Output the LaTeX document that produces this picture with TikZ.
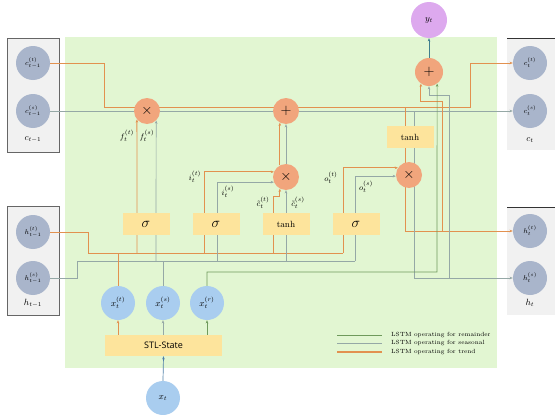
\documentclass[tikz,border=0pt]{standalone}
\usepackage{fontspec}
\newfontfamily\stlfont{Open Sans}
\usetikzlibrary{arrows.meta}
\definecolor{bgG}{HTML}{E2F6D2}
\definecolor{trend}{HTML}{E2914F}
\definecolor{seas}{HTML}{95A8A6}
\definecolor{rem}{HTML}{6F9A5C}
\definecolor{greyC}{HTML}{A9B5CB}
\definecolor{blueC}{HTML}{A9CDEF}
\definecolor{opC}{HTML}{F1A57C}
\definecolor{purC}{HTML}{DDA9EE}
\definecolor{gateC}{HTML}{FDE49C}
\definecolor{boxC}{HTML}{F1F1F1}
\definecolor{blueL}{HTML}{4F7FA8}
\definecolor{tealL}{HTML}{3F7E8E}
\pgfdeclarelayer{bg}\pgfdeclarelayer{ln}\pgfsetlayers{bg,ln,main}
\begin{document}
\begin{tikzpicture}[x=1pt,y=-1pt,
  gc/.style={circle,fill=greyC,minimum size=34pt,inner sep=0pt,font=\scriptsize},
  bc/.style={circle,fill=blueC,minimum size=34pt,inner sep=0pt,font=\small},
  op/.style={circle,fill=opC,minimum size=26pt,inner sep=0pt,font=\Large},
  gate/.style={fill=gateC,minimum width=47pt,minimum height=22pt,inner sep=0pt},
  tl/.style={trend,line width=0.8pt},
  sl/.style={seas,line width=0.7pt},
  rl/.style={rem,line width=0.7pt},
  arr/.style={-{Stealth[length=3.2pt,width=2.6pt]}},
  lab/.style={font=\footnotesize,inner sep=0pt},
  leg/.style={font=\fontsize{6}{7}\selectfont,anchor=west,inner sep=0pt}]
\useasboundingbox (0,0) rectangle (555,415);
\begin{pgfonlayer}{bg}
\fill[bgG] (65,37) rectangle (497,368);
\filldraw[fill=boxC,draw=gray!80!black,line width=0.6pt] (7,38) rectangle (59,152);
\filldraw[fill=boxC,draw=gray!80!black,line width=0.6pt] (7,206) rectangle (59,315);
\fill[boxC] (507,38) rectangle (560,150);
\fill[boxC] (507,207) rectangle (560,315);
\draw[gray!40!black,line width=0.8pt] (507,38) -- (560,38);
\draw[gray!40!black,line width=0.8pt] (507,207) -- (560,207);
\end{pgfonlayer}
% left state circles
\node[gc] (cL1) at (33,63) {$c^{(t)}_{t-1}$};
\node[gc] (cL2) at (33,111) {$c^{(s)}_{t-1}$};
\node[font=\small] (cLl) at (33,139) {$c_{t-1}$};
\node[gc] (hL1) at (33,232) {$h^{(t)}_{t-1}$};
\node[gc] (hL2) at (33,278) {$h^{(s)}_{t-1}$};
\node[font=\small] (hLl) at (33,303) {$h_{t-1}$};
% right state circles
\node[gc] (cR1) at (530,63) {$c^{(t)}_{t}$};
\node[gc] (cR2) at (530,111) {$c^{(s)}_{t}$};
\node[font=\small] (cRl) at (530,140) {$c_{t}$};
\node[gc] (hR1) at (530,231) {$h^{(t)}_{t}$};
\node[gc] (hR2) at (530,278) {$h^{(s)}_{t}$};
\node[font=\small] (hRl) at (530,303) {$h_{t}$};
% operators
\node[op] (timesF) at (147,111) {$\times$};
\node[op] (plusC) at (286,111) {$+$};
\node[op] (timesI) at (286,177) {$\times$};
\node[op] (timesO) at (409,175) {$\times$};
\node[gate,font=\small] (tanhC) at (410,137) {tanh};
\node[op,minimum size=28pt] (plusY) at (429,72) {$+$};
\node[circle,fill=purC,minimum size=36pt,inner sep=0pt,font=\small] (yt) at (429,20) {$y_t$};
% gates
\node[gate,font=\Large] (g1) at (146,224) {$\sigma$};
\node[gate,font=\Large] (g2) at (216,224) {$\sigma$};
\node[gate,font=\small] (g3) at (286,224) {tanh};
\node[gate,font=\Large] (g4) at (356,224) {$\sigma$};
% inputs
\node[bc] (xt) at (118,303) {$x^{(t)}_t$};
\node[bc] (xs) at (163,303) {$x^{(s)}_t$};
\node[bc] (xr) at (207,303) {$x^{(r)}_t$};
\node[fill=gateC,minimum width=117pt,minimum height=21pt,inner sep=0pt,font=\stlfont\fontsize{9}{10}\selectfont] (stl) at (163.5,345.5) {STL-State};
\node[circle,fill=blueC,minimum size=34pt,inner sep=0pt,font=\small] (x) at (163,398) {$x_t$};
% labels
\node[lab] (lf1) at (127,136) {$f^{(t)}_t$};
\node[lab] (lf2) at (147,136) {$f^{(s)}_t$};
\node[lab] (li1) at (195,177) {$i^{(t)}_t$};
\node[lab] (li2) at (228,192) {$i^{(s)}_t$};
\node[lab] (lc1) at (263,203) {$\tilde c^{(t)}_t$};
\node[lab] (lc2) at (298,203) {$\tilde c^{(s)}_t$};
\node[lab] (lo1) at (331,178) {$o^{(t)}_t$};
\node[lab] (lo2) at (366,187) {$o^{(s)}_t$};
% legend
\coordinate (l1a) at (337,335); \coordinate (l1b) at (382,335);
\coordinate (l2a) at (337,343); \coordinate (l2b) at (382,343);
\coordinate (l3a) at (337,352); \coordinate (l3b) at (382,352);
\draw[rem,line width=0.8pt] (l1a) -- (l1b);
\draw[seas,line width=0.8pt] (l2a) -- (l2b);
\draw[trend,line width=1.2pt] (l3a) -- (l3b);
\node[leg] (t1) at (391,335) {LSTM operating for remainder};
\node[leg] (t2) at (391,343) {LSTM operating for seasonal};
\node[leg] (t3) at (391,352) {LSTM operating for trend};
\begin{pgfonlayer}{ln}
% cell state lines
\draw[tl,arr] (cL1.east) -- (104,63) -- (104,107) -- (470,107) -- (470,63) -- (cR1.west);
\draw[sl,arr] (cL2.east) -- (cR2.west);
% to tanh / output
\draw[tl,arr] (405,107) -- (405,231) -- (hR1.west);
\draw[sl,arr] (414,111) -- (414,278) -- (hR2.west);
\draw[tl,arr] (442,231) -- (442,101) -| (plusY.235);
\draw[sl,arr] (449,278) -- (449,95) -| (plusY.south);
\draw[rl,arr] (xr.north) |- (437,272) -- (plusY.305);
% hidden state lines
\draw[tl] (hL1.east) -- (88,232) -- (88,253) -- (343,253);
\draw[sl] (hL2.east) -- (77,278) -- (77,261) -- (355,261);
\draw[tl] (xt.north) -- (118,253);
\draw[sl] (xs.north) -- (163,261);
% forget gate
\draw[tl,arr] (137,253) -- (timesF.220);
\draw[sl,arr] (156,261) -- (timesF.314);
% input gate
\draw[tl,arr] (204,253) |- (timesI.157);
\draw[sl,arr] (217,261) |- (timesI.203);
% candidate
\draw[tl,arr] (273,253) -- (273,196) -| (timesI.242);
\draw[sl,arr] (286,261) -- (timesI.south);
\draw[tl,arr] (timesI.118) -- (plusC.242);
\draw[sl,arr] (timesI.north) -- (plusC.south);
% output gate
\draw[tl,arr] (343,253) |- (timesO.147);
\draw[sl,arr] (355,261) |- (timesO.185);
% STL
\draw[tl,arr] (stl.north -| xt) -- (xt.south);
\draw[sl,arr] (stl.north -| xs) -- (xs.south);
\draw[rl,arr] (stl.north -| xr) -- (xr.south);
\draw[blueL,line width=0.7pt,arr] (x.north) -- (stl.south);
\draw[tealL,line width=0.7pt,arr] (plusY.north) -- (yt.south);
\end{pgfonlayer}
\end{tikzpicture}
\end{document}
